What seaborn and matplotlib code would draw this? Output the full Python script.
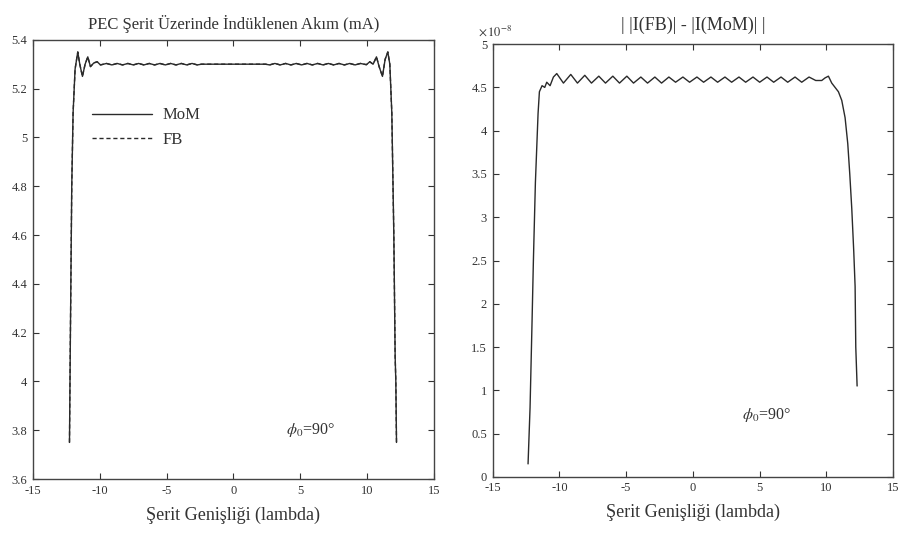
import matplotlib
matplotlib.use("Agg")
import matplotlib.pyplot as plt
import seaborn as sns
import pandas as pd

# ---- data ----
# Left panel: induced current on PEC strip (mA), MoM and FB (curves coincide)
strip_x = [-12.27, -12.2, -12.1, -12.0, -11.85, -11.65, -11.5, -11.3, -11.1, -10.9,
           -10.7, -10.45, -10.2, -9.95, -9.5, -9.1, -8.7, -8.3, -7.9, -7.5, -7.1,
           -6.7, -6.3, -5.9, -5.5, -5.1, -4.7, -4.3, -3.9, -3.5, -3.1, -2.7, -2.4,
           0.0, 2.4, 2.7, 3.1, 3.5, 3.9, 4.3, 4.7, 5.1, 5.5, 5.9, 6.3, 6.7, 7.1,
           7.5, 7.9, 8.3, 8.7, 9.1, 9.5, 9.95, 10.2, 10.45, 10.7, 10.9, 11.15,
           11.35, 11.55, 11.7, 11.85, 12.0, 12.1, 12.15, 12.2]
mom_current = [3.75, 4.2, 4.8, 5.1, 5.28, 5.35, 5.30, 5.25, 5.30, 5.33,
               5.29, 5.305, 5.31, 5.297, 5.303, 5.297, 5.303, 5.297, 5.303, 5.297, 5.303,
               5.297, 5.303, 5.297, 5.303, 5.297, 5.303, 5.297, 5.303, 5.297, 5.303, 5.297, 5.300,
               5.300, 5.300, 5.297, 5.303, 5.297, 5.303, 5.297, 5.303, 5.297, 5.303, 5.297, 5.303, 5.297, 5.303,
               5.297, 5.303, 5.297, 5.303, 5.297, 5.303, 5.298, 5.31, 5.30, 5.33, 5.29, 5.25,
               5.32, 5.35, 5.30, 5.10, 4.60, 4.10, 4.00, 3.75]
fb_current = list(mom_current)

# Right panel: | |I(FB)| - |I(MoM)| |  (x 1e-8)
diff_x = [-12.35, -12.2, -12.05, -11.95, -11.8, -11.6, -11.5, -11.3, -11.1, -10.95,
          -10.7, -10.45, -10.2, -9.7, -9.15, -8.65, -8.1, -7.6, -7.05, -6.55, -6.0,
          -5.5, -4.95, -4.45, -3.9, -3.4, -2.85, -2.35, -1.8, -1.3, -0.75, -0.25,
          0.3, 0.8, 1.35, 1.85, 2.4, 2.9, 3.45, 3.95, 4.5, 5.0, 5.55, 6.05, 6.6,
          7.1, 7.65, 8.15, 8.7, 9.2, 9.65, 9.9, 10.15, 10.4, 10.65, 10.9, 11.15,
          11.4, 11.6, 11.75, 11.9, 12.05, 12.15, 12.2, 12.3]
diff_vals = [0.15, 0.8, 1.8, 2.5, 3.4, 4.2, 4.45, 4.52, 4.50, 4.56,
             4.52, 4.62, 4.66, 4.55, 4.65, 4.55, 4.64, 4.55, 4.63, 4.55, 4.63,
             4.55, 4.63, 4.55, 4.62, 4.55, 4.62, 4.55, 4.62, 4.56, 4.62, 4.56,
             4.62, 4.56, 4.62, 4.56, 4.62, 4.56, 4.62, 4.56, 4.62, 4.56, 4.62, 4.56, 4.62,
             4.56, 4.62, 4.56, 4.62, 4.58, 4.58, 4.61, 4.63, 4.55, 4.50, 4.45, 4.35,
             4.15, 3.85, 3.5, 3.1, 2.6, 2.2, 1.5, 1.05]

left_xticks = [-15, -10, -5, 0, 5, 10, 15]
left_yticks = [3.6, 3.8, 4.0, 4.2, 4.4, 4.6, 4.8, 5.0, 5.2, 5.4]
left_ylabels = ["3.6", "3.8", "4", "4.2", "4.4", "4.6", "4.8", "5", "5.2", "5.4"]
right_yticks = [0, 0.5, 1, 1.5, 2, 2.5, 3, 3.5, 4, 4.5, 5]
right_ylabels = ["0", "0.5", "1", "1.5", "2", "2.5", "3", "3.5", "4", "4.5", "5"]

sns.set_theme(style="white")
plt.rcParams['font.family'] = ['Liberation Serif', 'DejaVu Serif']
plt.rcParams['mathtext.fontset'] = 'stix'

fig = plt.figure(figsize=(9.04, 5.45), dpi=100)
ax1 = fig.add_axes([0.0365, 0.121, 0.4435, 0.806])
ax2 = fig.add_axes([0.545, 0.125, 0.443, 0.794])

line_col = "#2a2a2a"
df_l = pd.DataFrame({"x": strip_x, "MoM": mom_current, "FB": fb_current})
sns.lineplot(data=df_l, x="x", y="MoM", ax=ax1, sort=False, estimator=None,
             color=line_col, lw=1.0, label="MoM")
sns.lineplot(data=df_l, x="x", y="FB", ax=ax1, sort=False, estimator=None,
             color=line_col, lw=1.0, linestyle=(0, (3, 2)), label="FB")

df_r = pd.DataFrame({"x": diff_x, "d": diff_vals})
sns.lineplot(data=df_r, x="x", y="d", ax=ax2, sort=False, estimator=None,
             color=line_col, lw=1.0)

for ax in (ax1, ax2):
    ax.set_xlim(-15, 15)
    ax.set_xticks(left_xticks)
    ax.set_xticklabels([str(t) for t in left_xticks])
    ax.tick_params(direction="in", length=4, width=0.8, top=True, right=True,
                   bottom=True, left=True, labelsize=9, colors="#333333", pad=4)
    for s in ax.spines.values():
        s.set_color("#444444")
        s.set_linewidth(1.0)
    ax.set_xlabel("Şerit Genişliği (lambda)", fontsize=13, color="#333333", labelpad=7)
    ax.set_ylabel("")

ax1.set_ylim(3.6, 5.4)
ax1.set_yticks(left_yticks)
ax1.set_yticklabels(left_ylabels)
ax1.set_title("PEC Şerit Üzerinde İndüklenen Akım (mA)", fontsize=12, color="#333333", pad=8)
leg = ax1.legend(loc="upper left", bbox_to_anchor=(0.11, 0.88), frameon=False,
                 handlelength=3.6, fontsize=12, labelspacing=0.5, handletextpad=0.6)
for t in leg.get_texts():
    t.set_color("#333333")
ax1.text(3.9, 3.80, r"$\phi_0$=90°", fontsize=11.5, color="#333333", va="center")

ax2.set_ylim(0, 5)
ax2.set_yticks(right_yticks)
ax2.set_yticklabels(right_ylabels)
ax2.set_title("| |I(FB)| - |I(MoM)| |", fontsize=13, color="#333333", pad=10)
ax2.text(-16.1, 5.1, r"$\times\,10^{-8}$", fontsize=9, color="#333333", clip_on=False)
ax2.text(3.7, 0.72, r"$\phi_0$=90°", fontsize=11.5, color="#333333", va="center")

fig.savefig("out.png", dpi=100)
